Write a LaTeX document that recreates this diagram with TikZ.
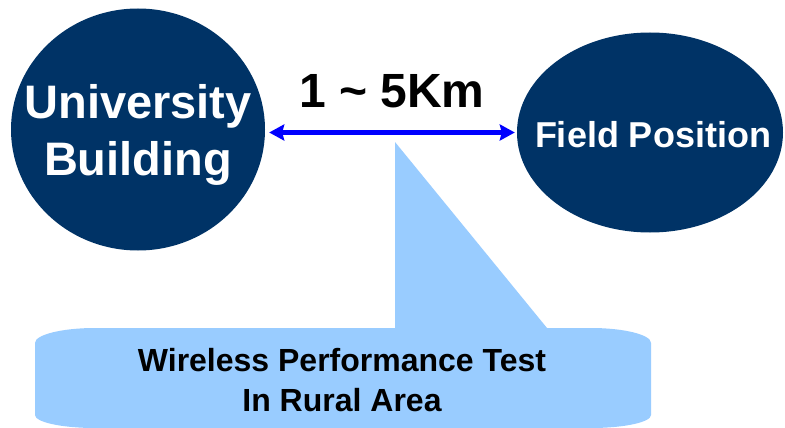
\documentclass[tikz,border=0pt]{standalone}
\usepackage{fontspec}
\setmainfont{Liberation Sans}
\usetikzlibrary{shapes.geometric,arrows.meta}
\definecolor{navy}{RGB}{0,51,102}
\definecolor{callblue}{RGB}{153,204,255}
\definecolor{arrowblue}{RGB}{0,0,255}
\tikzset{
  site/.style={ellipse, fill=navy, draw=none, inner sep=0pt},
  sitetext/.style={text=white, font=\bfseries, inner sep=0pt, align=center},
  link/.style={draw=arrowblue, line width=4.5pt, {Stealth[length=15pt,width=16pt,inset=2pt]}-{Stealth[length=15pt,width=16pt,inset=2pt]}, shorten <=4pt, shorten >=2pt},
  calltext/.style={text=black, font=\bfseries\fontsize{32}{40}\selectfont, inner sep=0pt, align=center}
}
\begin{document}
\begin{tikzpicture}[x=1pt,y=-1pt]
\useasboundingbox[fill=white] (0,0) rectangle (785,428);
% sites
\node[site, minimum width=254pt, minimum height=242pt] (ub) at (138,129.5) {};
\node[site, minimum width=266pt, minimum height=200pt] (fp) at (650,132.5) {};
\node[sitetext, font=\bfseries\fontsize{47}{57}\selectfont] (ubtext) at (138,134.6) {University\\Building};
\node[sitetext, font=\bfseries\fontsize{36}{43}\selectfont, anchor=base] (fptext) at (653,147) {Field Position};
% distance
\node[font=\bfseries\fontsize{48}{58}\selectfont, inner sep=0pt, anchor=base] (dist) at (392,107) {1 \textasciitilde\ 5Km};
\draw[link] (ub.east |- fp.west) -- (fp.west);
% callout
\coordinate (tip) at (395,142);
\fill[callblue] (35,343) .. controls (35,334.7) and (61.9,328) .. (95,328)
  -- (395,328) -- (tip) -- (547,328) -- (591,328)
  .. controls (624.1,328) and (651,334.7) .. (651,343)
  -- (651,415) .. controls (651,422.2) and (624.1,428) .. (591,428)
  -- (95,428) .. controls (61.9,428) and (35,422.2) .. (35,415) -- cycle;
\node[calltext] (test) at (342,380.4) {Wireless Performance Test\\In Rural Area};
\end{tikzpicture}
\end{document}
